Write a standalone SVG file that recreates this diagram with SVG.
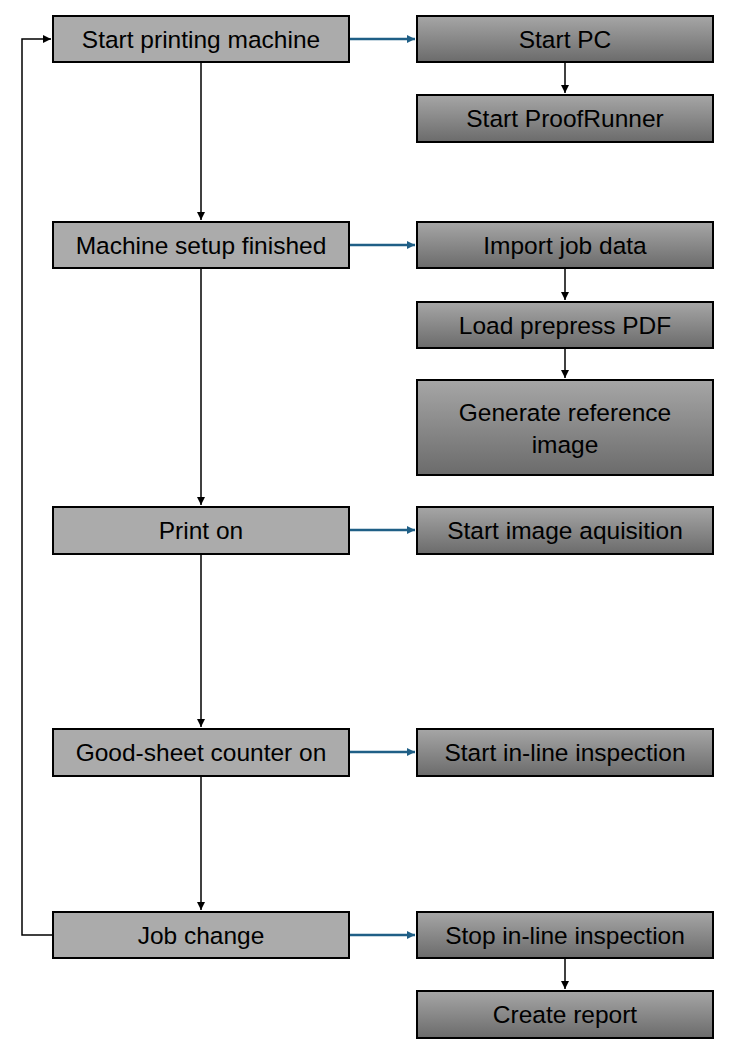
<svg xmlns="http://www.w3.org/2000/svg" width="738" height="1052" viewBox="0 0 738 1052">
<style>
.l{fill:#ababab;stroke:#000;stroke-width:2}
.r{fill:url(#g);stroke:#000;stroke-width:2}
text{font-family:"Liberation Sans",Arial,sans-serif;font-size:24.5px;fill:#000;text-anchor:middle}
.k{stroke:#000;stroke-width:1.5;fill:none}
.b{stroke:#1f5f86;stroke-width:2.5;fill:none}
</style>
<defs>
<linearGradient id="g" x1="0" y1="0" x2="0" y2="1"><stop offset="0" stop-color="#a6a6a6"/><stop offset="1" stop-color="#6b6b6b"/></linearGradient>
<marker id="ak" viewBox="0 0 10 10" refX="10" refY="5" markerWidth="8" markerHeight="8" markerUnits="userSpaceOnUse" orient="auto"><path d="M0,0L10,5L0,10z" fill="#000"/></marker>
<marker id="ab" viewBox="0 0 10 10" refX="10" refY="5" markerWidth="8" markerHeight="8" markerUnits="userSpaceOnUse" orient="auto"><path d="M0,0L10,5L0,10z" fill="#1f5f86"/></marker>
</defs>
<g id="connectors">
<path class="k" d="M201,62V220" marker-end="url(#ak)"/>
<path class="k" d="M201,268V505" marker-end="url(#ak)"/>
<path class="k" d="M201,554V727" marker-end="url(#ak)"/>
<path class="k" d="M201,776V910" marker-end="url(#ak)"/>
<path class="k" d="M53,935H22V39H51" marker-end="url(#ak)"/>
<path class="k" d="M565,62V93" marker-end="url(#ak)"/>
<path class="k" d="M565,268V300" marker-end="url(#ak)"/>
<path class="k" d="M565,348V378" marker-end="url(#ak)"/>
<path class="k" d="M565,958V989" marker-end="url(#ak)"/>
<path class="b" d="M349,39H415" marker-end="url(#ab)"/>
<path class="b" d="M349,245H415" marker-end="url(#ab)"/>
<path class="b" d="M349,530H415" marker-end="url(#ab)"/>
<path class="b" d="M349,752H415" marker-end="url(#ab)"/>
<path class="b" d="M349,935H415" marker-end="url(#ab)"/>
</g>
<g id="n1"><rect class="l" x="53" y="16" width="296" height="46"/><text x="201" y="48">Start printing machine</text></g>
<g id="n2"><rect class="l" x="53" y="222" width="296" height="46"/><text x="201" y="254">Machine setup finished</text></g>
<g id="n3"><rect class="l" x="53" y="507" width="296" height="47"/><text x="201" y="539">Print on</text></g>
<g id="n4"><rect class="l" x="53" y="729" width="296" height="47"/><text x="201" y="761">Good-sheet counter on</text></g>
<g id="n5"><rect class="l" x="53" y="912" width="296" height="46"/><text x="201" y="944">Job change</text></g>
<g id="r1"><rect class="r" x="417" y="16" width="296" height="46"/><text x="565" y="48">Start PC</text></g>
<g id="r2"><rect class="r" x="417" y="95" width="296" height="47"/><text x="565" y="127">Start ProofRunner</text></g>
<g id="r3"><rect class="r" x="417" y="222" width="296" height="46"/><text x="565" y="254">Import job data</text></g>
<g id="r4"><rect class="r" x="417" y="302" width="296" height="46"/><text x="565" y="334">Load prepress PDF</text></g>
<g id="r5"><rect class="r" x="417" y="380" width="296" height="95"/><text x="565" y="421">Generate reference</text><text x="565" y="453">image</text></g>
<g id="r6"><rect class="r" x="417" y="507" width="296" height="47"/><text x="565" y="539">Start image aquisition</text></g>
<g id="r7"><rect class="r" x="417" y="729" width="296" height="47"/><text x="565" y="761">Start in-line inspection</text></g>
<g id="r8"><rect class="r" x="417" y="912" width="296" height="46"/><text x="565" y="944">Stop in-line inspection</text></g>
<g id="r9"><rect class="r" x="417" y="991" width="296" height="47"/><text x="565" y="1023">Create report</text></g>
</svg>
